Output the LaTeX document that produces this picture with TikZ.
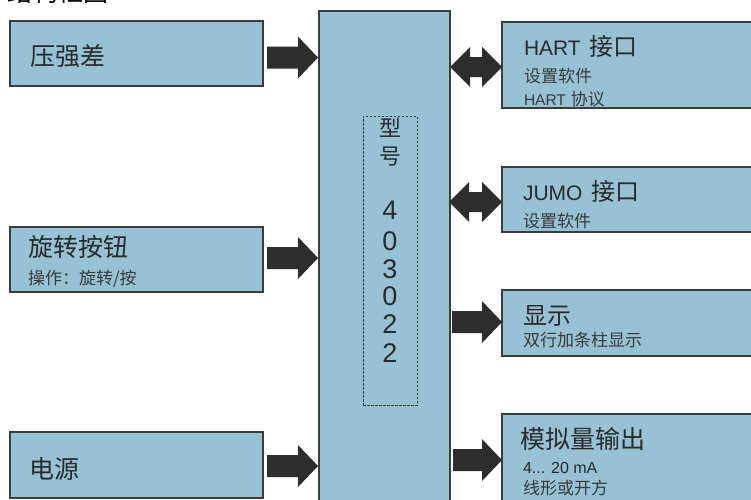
\documentclass[tikz,border=0pt]{standalone}
\usepackage{fontspec}
\setmainfont{Liberation Sans}
\newfontfamily\cjk{Noto Sans CJK SC}
\usetikzlibrary{calc}
\definecolor{boxfill}{HTML}{97C1D4}
\definecolor{boxline}{HTML}{3C3C3C}
\definecolor{arrowcol}{HTML}{2D2D2D}
\definecolor{txt}{HTML}{2A2A2A}
\definecolor{subtxt}{HTML}{3A3A3A}
\tikzset{
  blk/.style={draw=boxline, fill=boxfill, line width=1.2pt, anchor=north west, inner sep=0pt, outer sep=0pt},
  lbl/.style={anchor=base west, inner sep=0pt, outer sep=0pt, text=txt},
  sublbl/.style={lbl, text=subtxt},
  ctrtxt/.style={anchor=center, inner sep=0pt, outer sep=0pt, text=txt},
  bigcjk/.style={font=\cjk\fontsize{25}{25}\selectfont},
  hdcjk/.style={font=\fontsize{21}{21}\selectfont},
  smcjk/.style={font=\cjk\fontsize{17}{17}\selectfont},
  smlat/.style={font=\fontsize{15.5}{15.5}\selectfont},
  digit/.style={ctrtxt, font=\fontsize{27}{27}\selectfont},
  vcjk/.style={ctrtxt, font=\cjk\fontsize{22}{22}\selectfont},
  arrowfill/.style={fill=arrowcol}
}
\newcommand\blockarrowR[2]{\fill[arrowfill] let \p1=#1, \p2=#2 in
  (\x1,\y1+11pt) -- (\x2-20pt,\y1+11pt) -- (\x2-20pt,\y1+21pt) -- (\x2,\y1)
  -- (\x2-20pt,\y1-21pt) -- (\x2-20pt,\y1-11pt) -- (\x1,\y1-11pt) -- cycle;}
\newcommand\blockarrowD[2]{\fill[arrowfill] let \p1=#1, \p2=#2 in
  (\x1,\y1) -- (\x1+20pt,\y1+20pt) -- (\x1+20pt,\y1+10pt) -- (\x2-20pt,\y1+10pt)
  -- (\x2-20pt,\y1+20pt) -- (\x2,\y1) -- (\x2-20pt,\y1-20pt) -- (\x2-20pt,\y1-10pt)
  -- (\x1+20pt,\y1-10pt) -- (\x1+20pt,\y1-20pt) -- cycle;}
\begin{document}
\begin{tikzpicture}[x=1pt,y=-1pt]
\useasboundingbox (0,0) rectangle (751,499);
\clip (0,0) rectangle (751,499);
\fill[white] (0,0) rectangle (751,499);

% title (cut off at top)
\node[lbl, bigcjk, text=black] (title) at (8,1) {结构框图};

% left boxes
\node[blk, minimum width=253pt, minimum height=65pt] (p) at (10,21) {};
\node[blk, minimum width=253pt, minimum height=65pt] (r) at (10,227) {};
\node[blk, minimum width=253pt, minimum height=66pt] (s) at (10,432) {};

% central box
\node[blk, minimum width=131pt, minimum height=510pt] (c) at (319,11) {};
\node[draw=subtxt, dashed, dash pattern=on 2.5pt off 1.5pt, line width=0.7pt, anchor=north west,
      minimum width=54pt, minimum height=289pt, inner sep=0pt] (dbox) at (363,116) {};

% right boxes
\node[blk, minimum width=262pt, minimum height=86pt] (h) at (502,22) {};
\node[blk, minimum width=262pt, minimum height=65pt] (j) at (502,167) {};
\node[blk, minimum width=262pt, minimum height=66pt] (d) at (502,290) {};
\node[blk, minimum width=262pt, minimum height=90pt] (m) at (502,414) {};

% left texts
\node[lbl, bigcjk] (pt) at (30,65) {压强差};
\node[lbl, bigcjk] (rt) at (28,256.5) {旋转按钮};
\node[sublbl, smcjk] (rs) at (28,284.5) {操作：旋转/按};
\node[lbl, bigcjk] (st) at (29,478.5) {电源};

% central texts
\node[vcjk] (v1) at (390,128) {型};
\node[vcjk] (v2) at (390,157) {号};
\node[digit] (n1) at (390,210) {4};
\node[digit] (n2) at (390,241) {0};
\node[digit] (n3) at (390,269) {3};
\node[digit] (n4) at (390,296) {0};
\node[digit] (n5) at (390,324) {2};
\node[digit] (n6) at (390,353) {2};

% right texts
\node[lbl, hdcjk] (ht) at (524,55) {HART\hspace{9pt}{\cjk\fontsize{24}{24}\selectfont 接口}};
\node[sublbl, smcjk] (hs1) at (524,82.5) {设置软件};
\node[sublbl, smlat] (hs2) at (524,105) {HART\hspace{5pt}{\cjk\fontsize{17}{17}\selectfont 协议}};
\node[lbl, hdcjk] (jt) at (523,200) {JUMO\hspace{9pt}{\cjk\fontsize{24}{24}\selectfont 接口}};
\node[sublbl, smcjk] (js) at (523,227) {设置软件};
\node[lbl, font=\cjk\fontsize{24}{24}\selectfont] (dt) at (523,324.5) {显示};
\node[sublbl, smcjk] (ds) at (523,346) {双行加条柱显示};
\node[lbl, font=\cjk\fontsize{25}{25}\selectfont] (mt) at (520,448.5) {模拟量输出};
\node[lbl, font=\fontsize{16}{16}\selectfont] (ms1) at (523,473) {4... 20 mA};
\node[sublbl, smcjk] (ms2) at (523,494) {线形或开方};

% arrows in
\blockarrowR{($(p.east)+(4,4)$)}{($(c.west)+(-1,0)$)}
\blockarrowR{($(r.east)+(4,-1.5)$)}{($(c.west)+(-1,0)$)}
\blockarrowR{($(s.east)+(4,1)$)}{($(c.west)+(-1,0)$)}

% arrows out
\blockarrowD{($(h.west -| c.east)+(0,2)$)}{(h.west)}
\blockarrowD{($(j.west -| c.east)+(-1,2.5)$)}{(j.west)}
\blockarrowR{($(d.west -| c.east)+(2,-1)$)}{(d.west)}
\blockarrowR{($(m.west -| c.east)+(3,1)$)}{(m.west)}
\end{tikzpicture}
\end{document}
